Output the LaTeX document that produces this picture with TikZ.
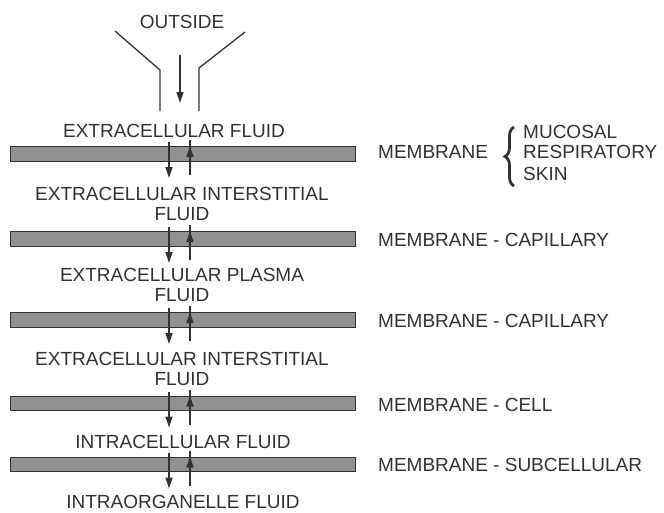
\documentclass[tikz,border=0pt]{standalone}
\usepackage{fontspec}
\setmainfont{Liberation Sans}
\usetikzlibrary{arrows.meta,decorations.pathreplacing}
\definecolor{ink}{RGB}{50,50,50}
\definecolor{barfill}{RGB}{145,145,145}
\tikzset{
  lbl/.style={font=\fontsize{19}{20}\selectfont, text=ink, inner sep=0pt},
  membar/.style={draw=ink, fill=barfill, line width=1.4pt, minimum width=345pt, minimum height=14.5pt, inner sep=0pt},
  flow/.style={draw=ink, line width=1.3pt},
  tipped/.style={flow, -{Triangle[length=11pt,width=7pt]}},
  bracestyle/.style={draw=ink, line width=2.8pt, decorate, decoration={brace, amplitude=9pt, aspect=0.5}}
}
\begin{document}
\begin{tikzpicture}[x=1pt,y=-1pt]
\useasboundingbox (0,0) rectangle (664,512);
% funnel from outside
\node[lbl, anchor=base] (outside) at (182,28) {OUTSIDE};
\coordinate (fl1) at (115,31);
\coordinate (fl2) at (160,70);
\coordinate (fl3) at (160,111);
\coordinate (fr1) at (245,32);
\coordinate (fr2) at (199,68);
\coordinate (fr3) at (199,111);
\coordinate (fa1) at (180,55);
\coordinate (fa2) at (180,103);
\draw[flow] (fl1) -- (fl2) -- (fl3);
\draw[flow] (fr1) -- (fr2) -- (fr3);
\draw[tipped] (fa1) -- (fa2);
% membranes and arrows
\foreach \i/\c in {1/154,2/239,3/320,4/403.5,5/464.5} {
  \node[membar] (m\i) at (183,\c) {};
  \coordinate (dn\i a) at (169,\c-12);
  \coordinate (dn\i b) at (169,\c+24);
  \coordinate (up\i a) at (190,\c+21);
  \coordinate (up\i b) at (190,\c-14);
  \coordinate (up\i h) at (190,\c-8);
  \draw[tipped] (dn\i a) -- (dn\i b);
  \draw[flow] (up\i a) -- (up\i b);
  \draw[tipped] (up\i a) -- (up\i h);
}
% compartment labels
\node[lbl, anchor=base] (ecf) at (174,137) {EXTRACELLULAR FLUID};
\node[lbl, anchor=north, align=center] (ei1) at (182,187) {EXTRACELLULAR INTERSTITIAL\\FLUID};
\node[lbl, anchor=north, align=center] (ep) at (182,268) {EXTRACELLULAR PLASMA\\FLUID};
\node[lbl, anchor=north, align=center] (ei2) at (182,352) {EXTRACELLULAR INTERSTITIAL\\FLUID};
\node[lbl, anchor=base] (icf) at (183,448) {INTRACELLULAR FLUID};
\node[lbl, anchor=base] (iof) at (183,508.5) {INTRAORGANELLE FLUID};
% membrane labels
\node[lbl, anchor=base west] (ml1) at (378,158) {MEMBRANE};
\node[lbl, anchor=base west] (ml2) at (378,246) {MEMBRANE - CAPILLARY};
\node[lbl, anchor=base west] (ml3) at (378,327) {MEMBRANE - CAPILLARY};
\node[lbl, anchor=base west] (ml4) at (378,411) {MEMBRANE - CELL};
\node[lbl, anchor=base west] (ml5) at (378,471) {MEMBRANE - SUBCELLULAR};
% brace and kinds
\coordinate (br1) at (514,186);
\coordinate (br2) at (514,127);
\draw[bracestyle] (br1) -- (br2);
\node[lbl, anchor=base west] (k1) at (523,138) {MUCOSAL};
\node[lbl, anchor=base west] (k2) at (523,158) {RESPIRATORY};
\node[lbl, anchor=base west] (k3) at (523,180) {SKIN};
\end{tikzpicture}
\end{document}
